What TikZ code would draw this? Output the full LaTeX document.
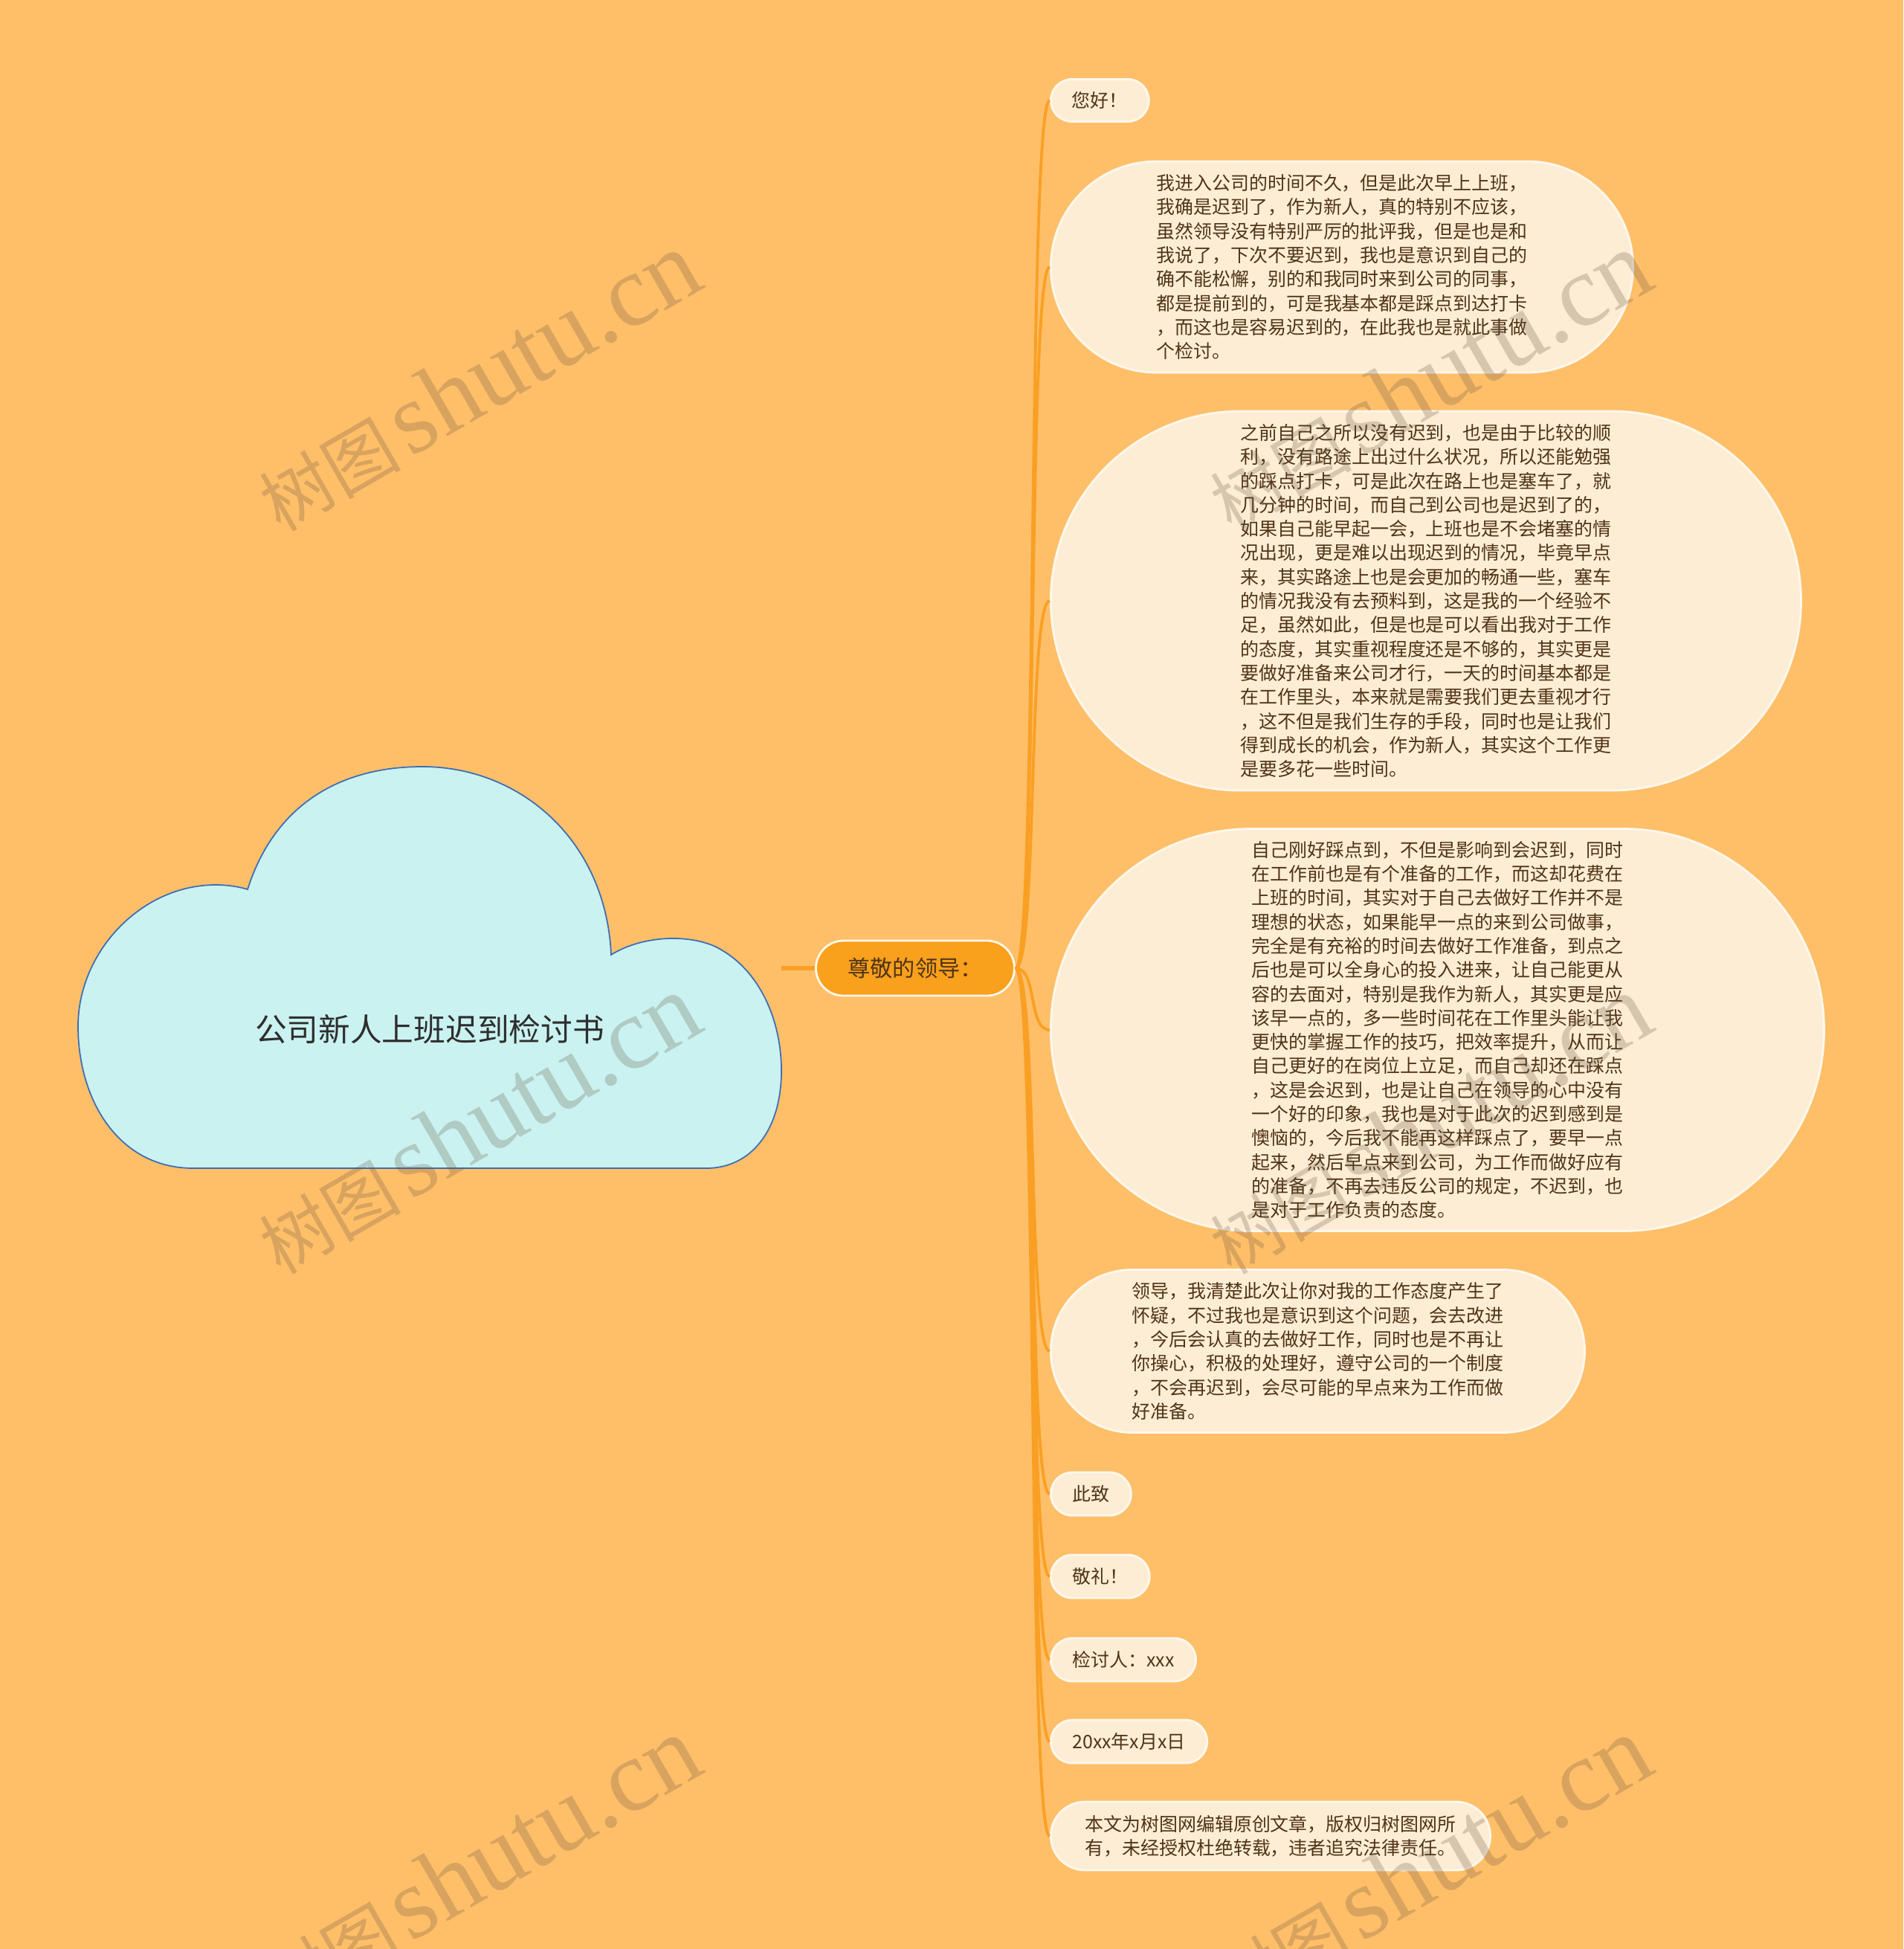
\documentclass[tikz,border=0pt]{standalone}
\usepackage{fontspec}
\setmainfont{Noto Sans CJK SC}
\newfontfamily\wmlatin{Liberation Serif}
\usepackage{tikz}

\definecolor{pageorange}{HTML}{FFBF69}
\definecolor{leaffill}{HTML}{FEEDD5}
\definecolor{leafedge}{HTML}{FFF8EC}
\definecolor{leaftext}{HTML}{4F3417}
\definecolor{mainfill}{HTML}{F9A01C}
\definecolor{linkorange}{HTML}{F9A024}
\definecolor{cloudfill}{HTML}{CAF2F0}
\definecolor{cloudedge}{HTML}{3D6DB5}
\definecolor{titlegray}{HTML}{2E2E2E}
\definecolor{wmbrown}{HTML}{645341}
\newcommand{\wmlabel}{{\fontsize{27pt}{27pt}\selectfont 树图}\hspace{0.35em}{\wmlatin\fontsize{39pt}{39pt}\selectfont shutu.cn}}
\tikzset{
    leafnode/.style={rectangle, fill=leaffill, draw=leafedge, line width=0.8pt,
        minimum height=#1, rounded corners=#1/2, inner xsep=#1/2, inner ysep=0.3mm,
        anchor=west, align=left, text=leaftext, font=\fontsize{7.1pt}{9.19pt}\selectfont},
    rootnode/.style={rectangle, fill=mainfill, draw=leafedge, line width=0.8pt,
        minimum height=0.74cm, minimum width=2.67cm, rounded corners=0.37cm,
        text=leaftext, font=\fontsize{8.6pt}{10pt}\selectfont},
    cloudshape/.style={fill=cloudfill, draw=cloudedge, line width=0.5pt},
    titletext/.style={text=titlegray, font=\fontsize{12.15pt}{14pt}\selectfont},
    branchline/.style={draw=linkorange, line width=1.1pt, out=0, in=180, max distance=0.3cm},
    rootline/.style={draw=linkorange, line width=1.6pt},
    wmtext/.style={text=wmbrown, text opacity=0.25, rotate=30}
}

\begin{document}
\begin{tikzpicture}
    \useasboundingbox (0,0) rectangle (25.6,-26.21);
    \fill[pageorange] (0,0) rectangle (25.6,-26.21);

    \draw[cloudshape] (3.33,-11.96) .. controls (3.70,-10.80) and (4.60,-10.31) .. (5.68,-10.31)
        .. controls (7.00,-10.31) and (8.15,-11.30) .. (8.22,-12.84)
        .. controls (8.60,-12.60) and (9.20,-12.55) .. (9.60,-12.72)
        .. controls (10.20,-13.00) and (10.51,-13.70) .. (10.51,-14.40)
        .. controls (10.51,-15.20) and (10.10,-15.71) .. (9.50,-15.71)
        -- (2.60,-15.71)
        .. controls (1.60,-15.71) and (1.05,-14.80) .. (1.05,-13.80)
        .. controls (1.05,-12.80) and (1.90,-11.90) .. (2.90,-11.90)
        .. controls (3.05,-11.90) and (3.20,-11.92) .. (3.33,-11.96) -- cycle;
    \node[titletext] (title) at (5.78,-13.84) {公司新人上班迟到检讨书};
    \coordinate (cloudtip) at (10.51,-13.02);

    \node[rootnode] (lead) at (12.31,-13.02) {尊敬的领导：};

    \node[leafnode=0.57cm] (hello) at (14.12,-1.35) {您好！};
    \node[leafnode=2.84cm] (late) at (14.12,-3.59) {我进入公司的时间不久，但是此次早上上班，\\
我确是迟到了，作为新人，真的特别不应该，\\
虽然领导没有特别严厉的批评我，但是也是和\\
我说了，下次不要迟到，我也是意识到自己的\\
确不能松懈，别的和我同时来到公司的同事，\\
都是提前到的，可是我基本都是踩点到达打卡\\
，而这也是容易迟到的，在此我也是就此事做\\
个检讨。};
    \node[leafnode=5.10cm] (reason) at (14.12,-8.08) {之前自己之所以没有迟到，也是由于比较的顺\\
利，没有路途上出过什么状况，所以还能勉强\\
的踩点打卡，可是此次在路上也是塞车了，就\\
几分钟的时间，而自己到公司也是迟到了的，\\
如果自己能早起一会，上班也是不会堵塞的情\\
况出现，更是难以出现迟到的情况，毕竟早点\\
来，其实路途上也是会更加的畅通一些，塞车\\
的情况我没有去预料到，这是我的一个经验不\\
足，虽然如此，但是也是可以看出我对于工作\\
的态度，其实重视程度还是不够的，其实更是\\
要做好准备来公司才行，一天的时间基本都是\\
在工作里头，本来就是需要我们更去重视才行\\
，这不但是我们生存的手段，同时也是让我们\\
得到成长的机会，作为新人，其实这个工作更\\
是要多花一些时间。};
    \node[leafnode=5.41cm] (effect) at (14.12,-13.85) {自己刚好踩点到，不但是影响到会迟到，同时\\
在工作前也是有个准备的工作，而这却花费在\\
上班的时间，其实对于自己去做好工作并不是\\
理想的状态，如果能早一点的来到公司做事，\\
完全是有充裕的时间去做好工作准备，到点之\\
后也是可以全身心的投入进来，让自己能更从\\
容的去面对，特别是我作为新人，其实更是应\\
该早一点的，多一些时间花在工作里头能让我\\
更快的掌握工作的技巧，把效率提升，从而让\\
自己更好的在岗位上立足，而自己却还在踩点\\
，这是会迟到，也是让自己在领导的心中没有\\
一个好的印象，我也是对于此次的迟到感到是\\
懊恼的，今后我不能再这样踩点了，要早一点\\
起来，然后早点来到公司，为工作而做好应有\\
的准备，不再去违反公司的规定，不迟到，也\\
是对于工作负责的态度。};
    \node[leafnode=2.19cm] (promise) at (14.12,-18.17) {领导，我清楚此次让你对我的工作态度产生了\\
怀疑，不过我也是意识到这个问题，会去改进\\
，今后会认真的去做好工作，同时也是不再让\\
你操心，积极的处理好，遵守公司的一个制度\\
，不会再迟到，会尽可能的早点来为工作而做\\
好准备。};
    \node[leafnode=0.58cm] (cizhi) at (14.12,-20.09) {此致};
    \node[leafnode=0.58cm] (jingli) at (14.12,-21.20) {敬礼！};
    \node[leafnode=0.58cm] (signer) at (14.12,-22.32) {检讨人：xxx};
    \node[leafnode=0.58cm] (date) at (14.12,-23.42) {20xx年x月x日};
    \node[leafnode=0.92cm] (notice) at (14.12,-24.69) {本文为树图网编辑原创文章，版权归树图网所\\
有，未经授权杜绝转载，违者追究法律责任。};

    \path (cloudtip) edge[rootline] (lead.west);
    \path (lead.east) edge[branchline] (hello.west);
    \path (lead.east) edge[branchline] (late.west);
    \path (lead.east) edge[branchline] (reason.west);
    \path (lead.east) edge[branchline] (effect.west);
    \path (lead.east) edge[branchline] (promise.west);
    \path (lead.east) edge[branchline] (cizhi.west);
    \path (lead.east) edge[branchline] (jingli.west);
    \path (lead.east) edge[branchline] (signer.west);
    \path (lead.east) edge[branchline] (date.west);
    \path (lead.east) edge[branchline] (notice.west);

    \node[wmtext] (wm1) at (6.43,-5.13) {\wmlabel};
    \node[wmtext] (wm2) at (6.43,-15.12) {\wmlabel};
    \node[wmtext] (wm3) at (6.43,-25.10) {\wmlabel};
    \node[wmtext] (wm4) at (19.22,-5.13) {\wmlabel};
    \node[wmtext] (wm5) at (19.22,-15.12) {\wmlabel};
    \node[wmtext] (wm6) at (19.22,-25.10) {\wmlabel};
\end{tikzpicture}
\end{document}
